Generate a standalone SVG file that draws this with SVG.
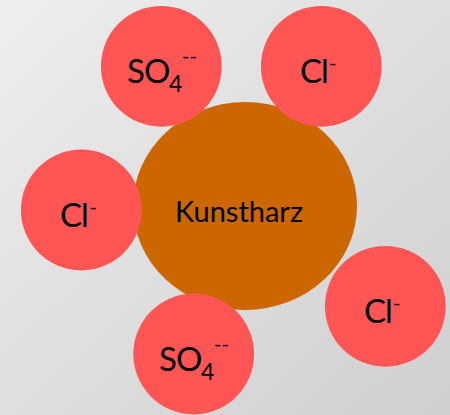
<svg xmlns="http://www.w3.org/2000/svg" width="450" height="415" viewBox="0 0 450 415">
<style>
.ion{fill:#ff5555}
.res{fill:#cc6600}
text{font-family:"Lato","Liberation Sans",sans-serif;fill:#000}
.t{font-size:33px;letter-spacing:-1px}
.k{font-size:29px}
.sub{font-size:23px;letter-spacing:0}
.sup{font-size:20px;letter-spacing:0}
</style>
<defs><linearGradient id="bg" x1="0" y1="0" x2="1" y2="1"><stop offset="0" stop-color="#eeeeee"/><stop offset="1" stop-color="#cfcfcf"/></linearGradient></defs>
<rect width="450" height="415" fill="url(#bg)"/>
<g id="kunstharz"><ellipse class="res" cx="245" cy="206" rx="112" ry="104"/><text class="k" x="175" y="222">Kunstharz</text></g>
<g id="so4-top"><circle class="ion" cx="161.3" cy="66.3" r="60.4"/><text class="t" x="127" y="83">SO<tspan class="sub" x="169" y="92">4</tspan><tspan class="sup" x="182" y="62.5">--</tspan></text></g>
<g id="cl-top"><circle class="ion" cx="321.3" cy="66.3" r="60.4"/><text class="t" x="300" y="83">Cl<tspan class="sup" x="329" y="69.5">-</tspan></text></g>
<g id="cl-left"><circle class="ion" cx="81.3" cy="210" r="60.4"/><text class="t" x="60" y="227">Cl<tspan class="sup" x="89.5" y="213.5">-</tspan></text></g>
<g id="cl-right"><circle class="ion" cx="385.3" cy="306.3" r="60.4"/><text class="t" x="364" y="323">Cl<tspan class="sup" x="393" y="309.5">-</tspan></text></g>
<g id="so4-bottom"><circle class="ion" cx="193.7" cy="354" r="60.4"/><text class="t" x="159" y="371">SO<tspan class="sub" x="201" y="380">4</tspan><tspan class="sup" x="214" y="351">--</tspan></text></g>
<g id="connectors"></g>
</svg>
